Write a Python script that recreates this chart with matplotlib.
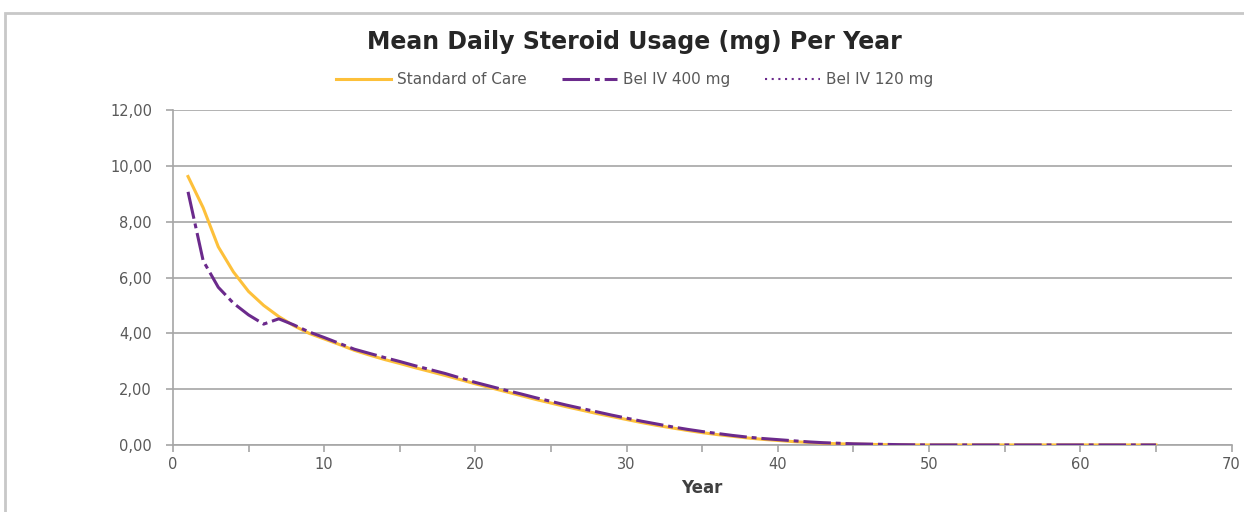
import matplotlib.pyplot as plt
from matplotlib.patches import Rectangle
from matplotlib.ticker import MultipleLocator, FuncFormatter

plt.rcParams['font.family'] = ['DejaVu Sans']

# Mean daily steroid dose (mg) by year of follow-up
years = list(range(1, 66))
standard_of_care = [
    9.62, 8.50, 7.10, 6.20, 5.50, 5.00, 4.60, 4.27, 4.00, 3.80,
    3.60, 3.39, 3.22, 3.06, 2.92, 2.77, 2.63, 2.49, 2.34, 2.19,
    2.05, 1.91, 1.77, 1.63, 1.50, 1.37, 1.25, 1.13, 1.02, 0.91,
    0.80, 0.70, 0.61, 0.52, 0.44, 0.37, 0.31, 0.25, 0.20, 0.16,
    0.12, 0.09, 0.06, 0.04, 0.03, 0.02, 0.01, 0.005, 0, 0,
    0, 0, 0, 0, 0, 0, 0, 0, 0, 0,
    0, 0, 0, 0, 0,
]
bel_iv_400 = [
    9.07, 6.60, 5.65, 5.08, 4.66, 4.33, 4.52, 4.30, 4.05, 3.85,
    3.64, 3.43, 3.28, 3.13, 2.99, 2.84, 2.70, 2.56, 2.40, 2.24,
    2.10, 1.96, 1.83, 1.69, 1.56, 1.43, 1.31, 1.19, 1.07, 0.96,
    0.85, 0.75, 0.65, 0.56, 0.48, 0.41, 0.34, 0.28, 0.23, 0.19,
    0.15, 0.11, 0.08, 0.06, 0.04, 0.03, 0.02, 0.01, 0.005, 0,
    0, 0, 0, 0, 0, 0, 0, 0, 0, 0,
    0, 0, 0, 0, 0,
]
# no values plotted for the 120 mg arm
bel_iv_120_years = []
bel_iv_120 = []

yellow = '#FDC03A'
purple = '#6B2A8C'
grey_text = '#595959'
grid_grey = '#A6A6A6'

fig = plt.figure(figsize=(12.44, 5.12), dpi=100)
ax = fig.add_axes([0.139, 0.131, 0.851, 0.654])

ax.plot(years, standard_of_care, color=yellow, lw=2.2, zorder=3,
        label='Standard of Care')
ax.plot(years, bel_iv_400, color=purple, lw=2.2, zorder=4,
        dashes=(9, 1.6, 1.6, 1.6), label='Bel IV 400 mg')
ax.plot(bel_iv_120_years, bel_iv_120, color=purple, lw=1.5, zorder=4,
        dashes=(1, 2.2), label='Bel IV 120 mg')

ax.set_xlim(0, 70)
ax.set_ylim(0, 12)
ax.xaxis.set_major_locator(MultipleLocator(10))
ax.xaxis.set_minor_locator(MultipleLocator(5))
ax.yaxis.set_major_locator(MultipleLocator(2))
ax.yaxis.set_major_formatter(FuncFormatter(lambda v, p: f'{v:.2f}'.replace('.', ',')))

ax.grid(axis='y', color=grid_grey, lw=1.2)
ax.set_axisbelow(True)
for side in ['top', 'right']:
    ax.spines[side].set_visible(False)
for side in ['left', 'bottom']:
    ax.spines[side].set_color(grid_grey)
    ax.spines[side].set_linewidth(1.2)

ax.tick_params(axis='both', which='both', direction='out', color=grid_grey,
               width=1.2, length=5, labelcolor=grey_text, labelsize=10.5)
ax.tick_params(axis='y', pad=10)

ax.set_xlabel('Year', fontsize=12, fontweight='bold', color='#404040', labelpad=5)

fig.text(0.51, 0.918, 'Mean Daily Steroid Usage (mg) Per Year', ha='center', va='center',
         fontsize=17, fontweight='bold', color='#262626')

fig.legend(loc='center', bbox_to_anchor=(0.51, 0.845), ncol=3, frameon=False,
           fontsize=11, labelcolor=grey_text, handlelength=3.6, handletextpad=0.4,
           columnspacing=2.3)

# outer chart frame
fig.add_artist(Rectangle((5 / 1244, -0.1), 1.2, 1 - 13 / 512 + 0.1,
                         transform=fig.transFigure, fill=False,
                         edgecolor='#C8C8C8', lw=2))

fig.savefig('out.png', dpi=100, facecolor='white')
